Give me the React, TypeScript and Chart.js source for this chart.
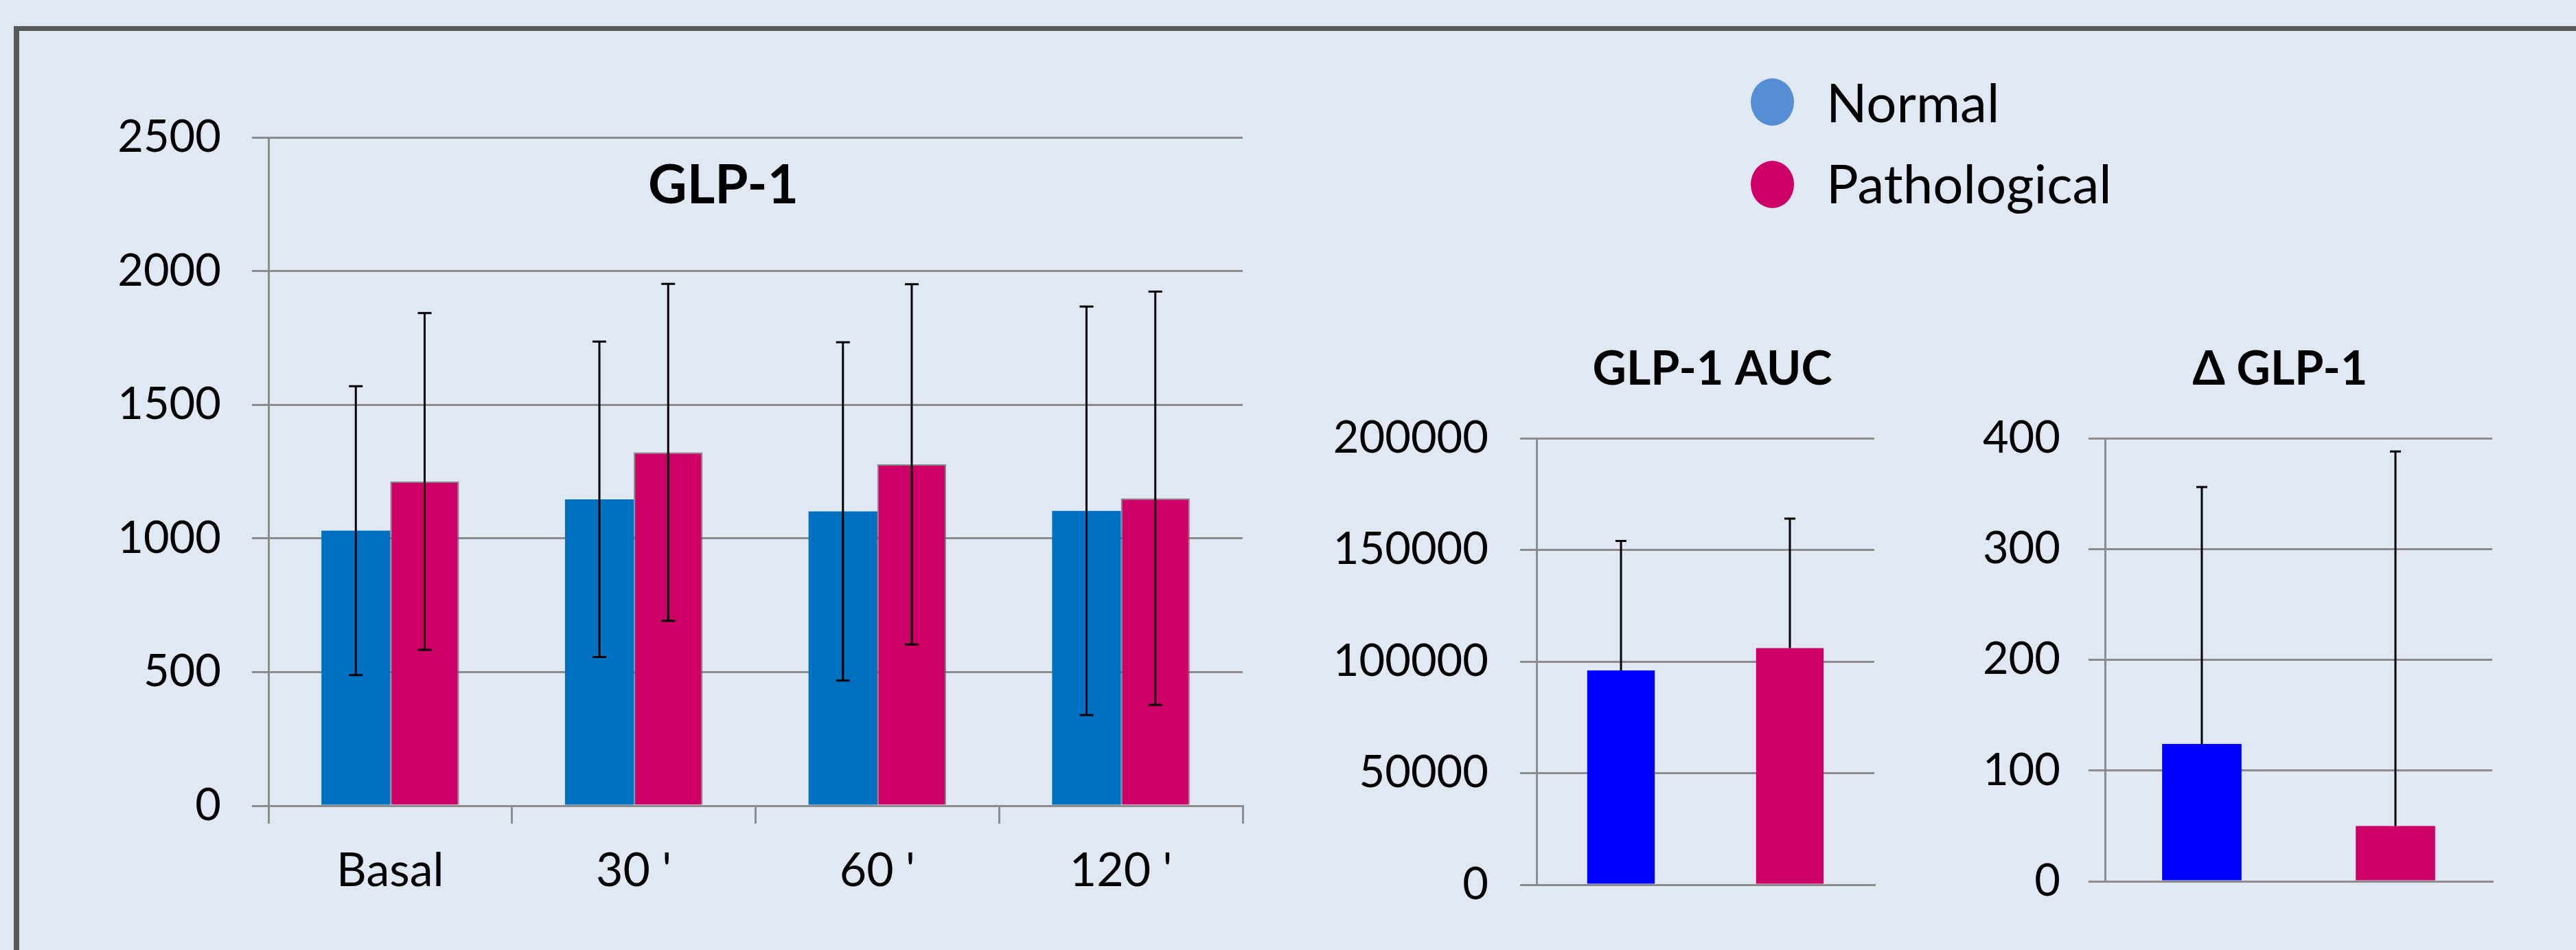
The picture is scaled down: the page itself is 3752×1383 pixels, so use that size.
import React, { useEffect, useRef } from "react";
import { Chart, registerables } from "chart.js";

Chart.register(...registerables);

const FONT = "Lato, 'Open Sans', 'Liberation Sans', sans-serif";

// ---- data ----
const timeLabels = ["Basal", "30 '", "60 '", "120 '"];
const normalMean = [1029, 1146, 1101, 1103];
const normalSD = [540, 590, 633, 764];
const pathMean = [1213, 1322, 1277, 1150];
const pathSD = [630, 630, 674, 773];

const groupLabels = ["Normal", "Pathological"];
const aucMean = [96000, 106000];
const aucSD = [58000, 58000];
const deltaMean = [124, 50];
const deltaSD = [232, 338];

const legendLabels = ["Normal", "Pathological"];
const legendColors = ["#558ED5", "#CC0066"];

// ---- styles ----
const GRID = "#8c8c8c";
const BG = "#E0E8F4";

const errorBars = {
  id: "errorBars",
  afterDatasetsDraw(chart: any, _args: any, opts: any) {
    const ctx = chart.ctx;
    const y = chart.scales.y;
    chart.data.datasets.forEach((ds: any, di: number) => {
      if (!ds.errors) return;
      const meta = chart.getDatasetMeta(di);
      meta.data.forEach((bar: any, i: number) => {
        const v = ds.data[i];
        const e = ds.errors[i];
        const x = bar.x;
        const yTop = y.getPixelForValue(v + e);
        const yBot = opts.upOnly ? y.getPixelForValue(v) : y.getPixelForValue(v - e);
        const cw = opts.cap || 10;
        ctx.save();
        ctx.strokeStyle = "#000";
        ctx.lineWidth = opts.width || 3;
        ctx.beginPath();
        ctx.moveTo(x, yTop);
        ctx.lineTo(x, yBot);
        ctx.moveTo(x - cw, yTop);
        ctx.lineTo(x + cw, yTop);
        if (!opts.upOnly) {
          ctx.moveTo(x - cw, yBot);
          ctx.lineTo(x + cw, yBot);
        }
        ctx.stroke();
        ctx.restore();
      });
    });
  },
};

const panelTitle = {
  id: "panelTitle",
  afterDraw(chart: any, _args: any, opts: any) {
    if (!opts.text) return;
    const ctx = chart.ctx;
    const ca = chart.chartArea;
    ctx.save();
    ctx.font = `bold ${opts.size}px ${FONT}`;
    ctx.fillStyle = "#000";
    ctx.textAlign = "center";
    ctx.textBaseline = "alphabetic";
    ctx.fillText(opts.text, (ca.left + ca.right) / 2 + opts.dx, ca.top + opts.dy);
    ctx.restore();
  },
};

const tickFmt = (v: any) => String(v);

function yAxis(min: number, max: number, step: number, width: number, pad: number) {
  return {
    min,
    max,
    afterFit: (s: any) => {
      s.width = width;
    },
    ticks: { stepSize: step, callback: tickFmt, color: "#000", font: { family: FONT, size: 65 }, padding: pad },
    grid: { color: GRID, lineWidth: 3, tickLength: 24, drawTicks: true },
    border: { display: true, color: GRID, width: 3 },
  };
}

function mainConfig() {
  return {
    type: "bar",
    data: {
      labels: timeLabels,
      datasets: [
        {
          label: "Normal",
          data: normalMean,
          errors: normalSD,
          backgroundColor: "#0070C0",
          borderColor: "rgba(110,110,110,0.6)",
          borderWidth: 0,
          categoryPercentage: 0.565,
          barPercentage: 1,
        },
        {
          label: "Pathological",
          data: pathMean,
          errors: pathSD,
          backgroundColor: "#CC0066",
          borderColor: "rgba(100,100,100,0.75)",
          borderWidth: 2,
          categoryPercentage: 0.565,
          barPercentage: 1,
        },
      ],
    },
    options: {
      responsive: false,
      animation: false,
      layout: { padding: { left: 0, top: 200, right: 90, bottom: 60 } },
      plugins: {
        legend: { display: false },
        tooltip: { enabled: false },
        errorBars: { upOnly: false, cap: 10, width: 3 },
        panelTitle: { text: "GLP-1", size: 78, dx: -47, dy: 96 },
      },
      scales: {
        x: {
          afterFit: (s: any) => {
            s.height = 150;
          },
          ticks: { color: "#000", font: { family: FONT, size: 68 }, padding: 28 },
          grid: { display: true, drawOnChartArea: false, drawTicks: true, tickLength: 26, color: GRID, lineWidth: 3, offset: true },
          border: { display: true, color: GRID, width: 3 },
        },
        y: yAxis(0, 2500, 500, 391, 45),
      },
    },
    plugins: [errorBars, panelTitle],
  };
}

function smallConfig(
  mean: number[],
  sd: number[],
  max: number,
  step: number,
  yWidth: number,
  yPad: number,
  barPct: number,
  padding: any,
  title: string,
  dx: number
) {
  return {
    type: "bar",
    data: {
      labels: groupLabels,
      datasets: [
        {
          label: title,
          data: mean,
          errors: sd,
          backgroundColor: ["#0000FF", "#CC0066"],
          borderWidth: 0,
          categoryPercentage: 1,
          barPercentage: barPct,
        },
      ],
    },
    options: {
      responsive: false,
      animation: false,
      layout: { padding },
      plugins: {
        legend: { display: false },
        tooltip: { enabled: false },
        errorBars: { upOnly: true, cap: 8, width: 3 },
        panelTitle: { text: title, size: 68, dx, dy: -78 },
      },
      scales: {
        x: {
          afterFit: (s: any) => {
            s.height = 0;
          },
          ticks: { display: false },
          grid: { display: true, drawOnChartArea: false, drawTicks: false, color: GRID, lineWidth: 3 },
          border: { display: true, color: GRID, width: 3 },
        },
        y: yAxis(0, max, step, yWidth, yPad),
      },
    },
    plugins: [errorBars, panelTitle],
  };
}

function ChartCanvas(props: { make: () => any; left: number; top: number; width: number; height: number }) {
  const ref = useRef<HTMLCanvasElement>(null);
  useEffect(() => {
    const chart = new Chart(ref.current as HTMLCanvasElement, props.make());
    return () => chart.destroy();
  }, []);
  return (
    <canvas
      ref={ref}
      width={props.width}
      height={props.height}
      style={{ position: "absolute", left: props.left, top: props.top, width: props.width, height: props.height }}
    />
  );
}

export default function App() {
  useEffect(() => {
    document.body.style.margin = "0";
  }, []);
  return (
    <div style={{ position: "absolute", left: 0, top: 0, width: 3752, height: 1383, background: BG, overflow: "hidden" }}>
      <div
        style={{
          position: "absolute",
          left: 20,
          top: 38,
          width: 3900,
          height: 1500,
          borderTop: "7px solid #595959",
          borderLeft: "8px solid #595959",
        }}
      />
      <ChartCanvas make={mainConfig} left={0} top={0} width={1900} height={1383} />
      <ChartCanvas
        make={() =>
          smallConfig(aucMean, aucSD, 200000, 50000, 338, 46, 0.4, { left: 0, top: 638, right: 70, bottom: 95 }, "GLP-1 AUC", 10)
        }
        left={1900}
        top={0}
        width={900}
        height={1383}
      />
      <ChartCanvas
        make={() =>
          smallConfig(deltaMean, deltaSD, 400, 100, 266, 41, 0.41, { left: 0, top: 638, right: 122, bottom: 100 }, "Δ GLP-1", -27)
        }
        left={2800}
        top={0}
        width={952}
        height={1383}
      />
      {legendLabels.map((t, i) => (
        <React.Fragment key={t}>
          <div
            style={{
              position: "absolute",
              left: 2550,
              top: 114 + i * 120,
              width: 63,
              height: 69,
              borderRadius: "50%",
              background: legendColors[i],
            }}
          />
          <div
            style={{
              position: "absolute",
              left: 2660,
              top: 109 + i * 118,
              fontFamily: FONT,
              fontSize: 78,
              lineHeight: "78px",
              whiteSpace: "nowrap",
              color: "#000",
            }}
          >
            {t}
          </div>
        </React.Fragment>
      ))}
    </div>
  );
}
